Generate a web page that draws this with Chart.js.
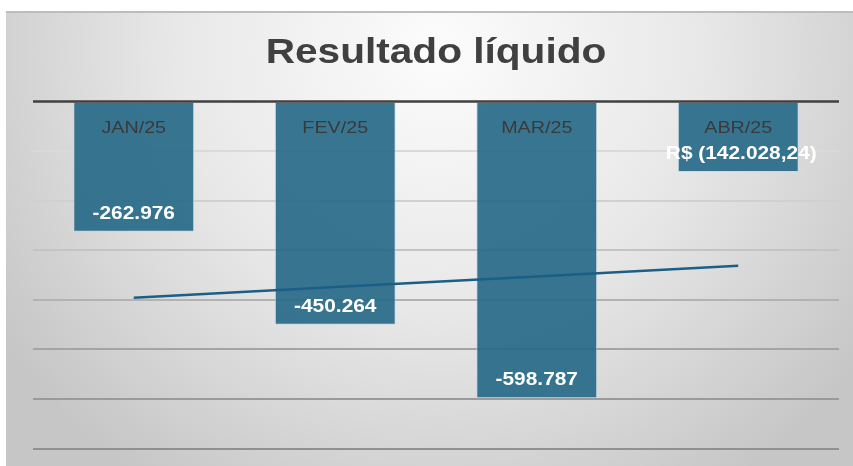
<!DOCTYPE html>
<html lang="pt-BR">
<head>
<meta charset="utf-8">
<title>Resultado líquido</title>
<script src="https://cdn.jsdelivr.net/npm/chart.js@4.4.1/dist/chart.umd.min.js"></script>
<style>
  html, body { margin: 0; padding: 0; background: #fff; }
  #wrap { position: relative; width: 853px; height: 466px; overflow: hidden; }
  #painel {
    position: absolute; left: 6px; top: 11px; width: 847px; height: 453px;
    border-top: 2px solid #bdbdbd;
    background: radial-gradient(ellipse 62% 115% at 51% 8%, #fcfcfc 0%, #e8e8e8 50%, #c6c6c6 100%);
  }
  #grafico { position: absolute; left: 0; top: 0; }
</style>
</head>
<body>
<div id="wrap">
  <div id="painel"></div>
  <canvas id="grafico" width="853" height="466"></canvas>
</div>
<script>
// Dados do gráfico
const titulo = 'Resultado líquido';
const meses = ['JAN/25', 'FEV/25', 'MAR/25', 'ABR/25'];
const resultados = [-262976, -450264, -598787, -142028.24];
const rotulosValores = ['-262.976', '-450.264', '-598.787', 'R$ (142.028,24)'];
// Linha de tendência
const tendencia = [-395700, -374300, -352800, -331400];
const escalaMin = -700000;
const escalaMax = 0;
const passo = 100000;

// Texto levemente esticado na horizontal, como no original
const ESTICAR = 1.16;

// Linhas de grade ficam mais escuras de cima para baixo
const coresGrade = ['#dadada', '#d0d0d0', '#c4c4c4', '#b2b2b2', '#a4a4a4', '#9a9a9a', '#909090'];

function escreve(ctx, texto, x, y, fonte, cor) {
  ctx.save();
  ctx.font = fonte;
  ctx.fillStyle = cor;
  ctx.textAlign = 'center';
  ctx.textBaseline = 'alphabetic';
  ctx.translate(x, y);
  ctx.scale(ESTICAR, 1);
  ctx.fillText(texto, 0, 0);
  ctx.restore();
}

// Plugin: linha do zero, título e rótulos
const rotulos = {
  id: 'rotulos',
  afterDatasetsDraw(chart) {
    const ctx = chart.ctx;
    const area = chart.chartArea;
    const y = chart.scales.y;
    const zeroY = y.getPixelForValue(0);

    // linha do zero
    ctx.save();
    ctx.strokeStyle = '#404040';
    ctx.lineWidth = 2.5;
    ctx.beginPath();
    ctx.moveTo(area.left, zeroY);
    ctx.lineTo(area.right, zeroY);
    ctx.stroke();
    ctx.restore();

    // título
    escreve(ctx, titulo, (area.left + area.right) / 2, 63, 'bold 35px "Liberation Sans", Arial, sans-serif', '#404040');

    const barras = chart.getDatasetMeta(1).data;
    barras.forEach((barra, i) => {
      escreve(ctx, meses[i], barra.x, zeroY + 31, '17px "Liberation Sans", Arial, sans-serif', '#3a3a3a');
      escreve(ctx, rotulosValores[i], barra.x + (i === 3 ? 3 : 0), barra.y - 13, 'bold 18px "Liberation Sans", Arial, sans-serif', '#ffffff');
    });
  }
};

new Chart(document.getElementById('grafico'), {
  data: {
    labels: meses,
    datasets: [
      {
        type: 'line',
        label: 'Tendência',
        data: tendencia,
        borderColor: '#1c5f86',
        borderWidth: 2.5,
        pointRadius: 0,
        fill: false,
        tension: 0,
        order: 0
      },
      {
        type: 'bar',
        label: 'Resultado',
        data: resultados,
        backgroundColor: 'rgba(34, 103, 133, 0.9)',
        borderColor: 'rgba(190, 214, 228, 0.7)',
        borderWidth: 1,
        borderSkipped: 'start',
        categoryPercentage: 1,
        barPercentage: 0.6,
        order: 1
      }
    ]
  },
  options: {
    responsive: false,
    animation: false,
    layout: { padding: { left: 33, right: 14, top: 101.5, bottom: 17.5 } },
    plugins: {
      legend: { display: false },
      tooltip: { enabled: false },
      title: { display: false }
    },
    scales: {
      x: { display: false },
      y: {
        min: escalaMin,
        max: escalaMax,
        ticks: { display: false, stepSize: passo },
        border: { display: false },
        grid: {
          drawTicks: false,
          color: (c) => {
            const n = Math.round(-c.tick.value / passo);
            return n === 0 ? 'rgba(0,0,0,0)' : coresGrade[n - 1];
          },
          lineWidth: 2
        }
      }
    }
  },
  plugins: [rotulos]
});
</script>
</body>
</html>
